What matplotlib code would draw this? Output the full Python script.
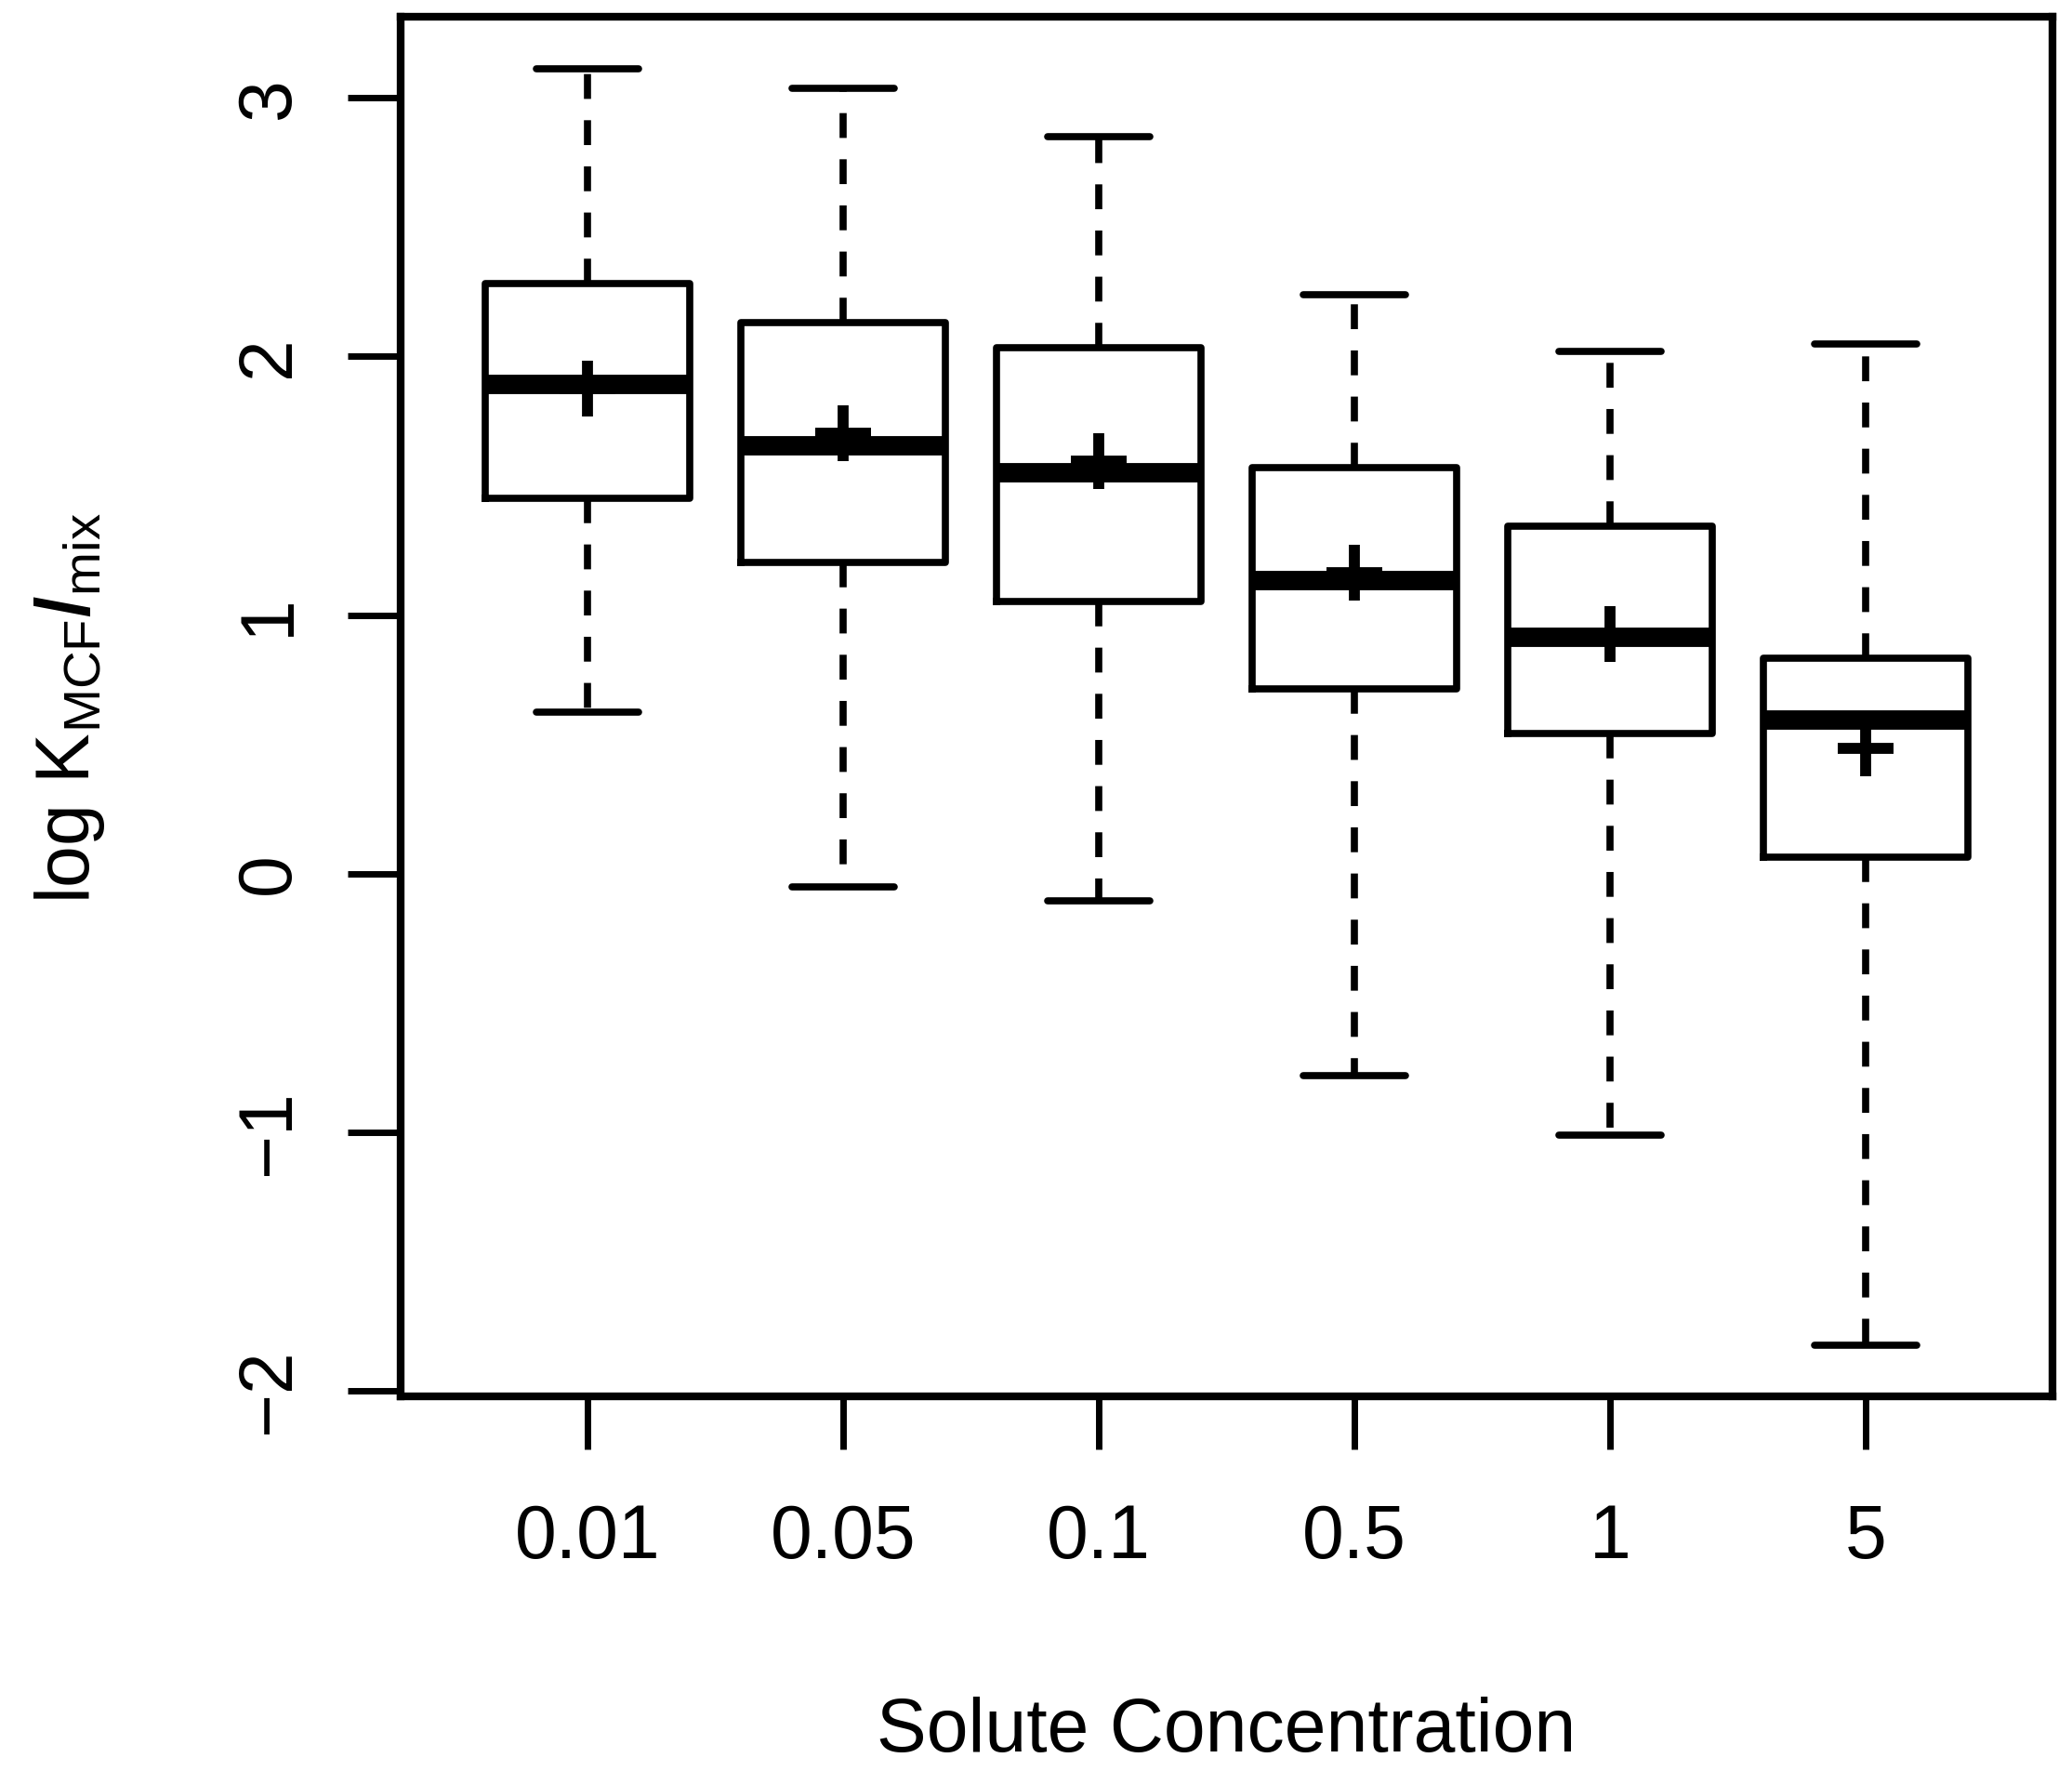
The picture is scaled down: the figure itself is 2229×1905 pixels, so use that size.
import matplotlib.pyplot as plt

plt.rcParams["font.family"] = ["Liberation Sans", "DejaVu Sans"]
plt.rcParams["mathtext.fontset"] = "custom"
plt.rcParams["mathtext.rm"] = "Liberation Sans"
plt.rcParams["mathtext.bf"] = "Liberation Sans:bold"
plt.rcParams["mathtext.it"] = "Liberation Sans:italic"

# box statistics (log K values)
concentrations = ["0.01", "0.05", "0.1", "0.5", "1", "5"]
whisker_low = [0.625, -0.051, -0.106, -0.780, -1.012, -1.823]
q1 = [1.451, 1.203, 1.053, 0.715, 0.544, 0.065]
medians = [1.893, 1.655, 1.553, 1.137, 0.915, 0.597]
q3 = [2.281, 2.130, 2.033, 1.569, 1.343, 0.834]
whisker_high = [3.112, 3.036, 2.851, 2.238, 2.019, 2.049]
means = [1.876, 1.703, 1.595, 1.164, 0.926, 0.485]

stats = []
for i, lab in enumerate(concentrations):
    stats.append({
        "label": lab,
        "whislo": whisker_low[i],
        "q1": q1[i],
        "med": medians[i],
        "q3": q3[i],
        "whishi": whisker_high[i],
        "mean": means[i],
        "fliers": [],
    })

fig = plt.figure(figsize=(22.29, 19.05), dpi=100)
ax = fig.add_axes([0.1934, 0.2115, 0.9906 - 0.1934, 0.9903 - 0.2115])

lw = 5.5
positions = list(range(1, len(concentrations) + 1))
ax.bxp(
    stats,
    positions=positions,
    widths=0.8,
    capwidths=0.4,
    showmeans=True,
    showfliers=False,
    manage_ticks=False,
    boxprops=dict(color="black", linewidth=lw),
    whiskerprops=dict(color="black", linewidth=lw, linestyle=(0, (3.5, 3.0))),
    capprops=dict(color="black", linewidth=lw, solid_capstyle="round"),
    medianprops=dict(color="black", linewidth=15, solid_capstyle="butt"),
    meanprops=dict(marker="+", markersize=43, markeredgewidth=8.5,
                   markeredgecolor="black"),
)

ax.set_xlim(0.27, 6.73)
ax.set_ylim(-2.021, 3.312)

ax.set_xticks(positions)
ax.set_xticklabels(concentrations)
ax.set_yticks([-2, -1, 0, 1, 2, 3])

for s in ax.spines.values():
    s.set_linewidth(6)
ax.tick_params(axis="both", width=5, length=41, labelsize=58, color="black")
ax.tick_params(axis="x", pad=42)
ax.tick_params(axis="y", pad=33, labelrotation=90)
for t in ax.get_yticklabels():
    t.set_va("center")

fig.text(0.5 * (0.1934 + 0.9906), 0.011, "Solute Concentration",
         fontsize=58, ha="center", va="baseline")
fig.text(96 / 2229, 1 - 762 / 1905,
         r"$\mathrm{log\ K_{MCF}}\mathbf{/}_{\mathrm{mix}}$",
         fontsize=58, rotation=90, rotation_mode="anchor",
         ha="center", va="baseline")

fig.savefig("out.png", dpi=100)
